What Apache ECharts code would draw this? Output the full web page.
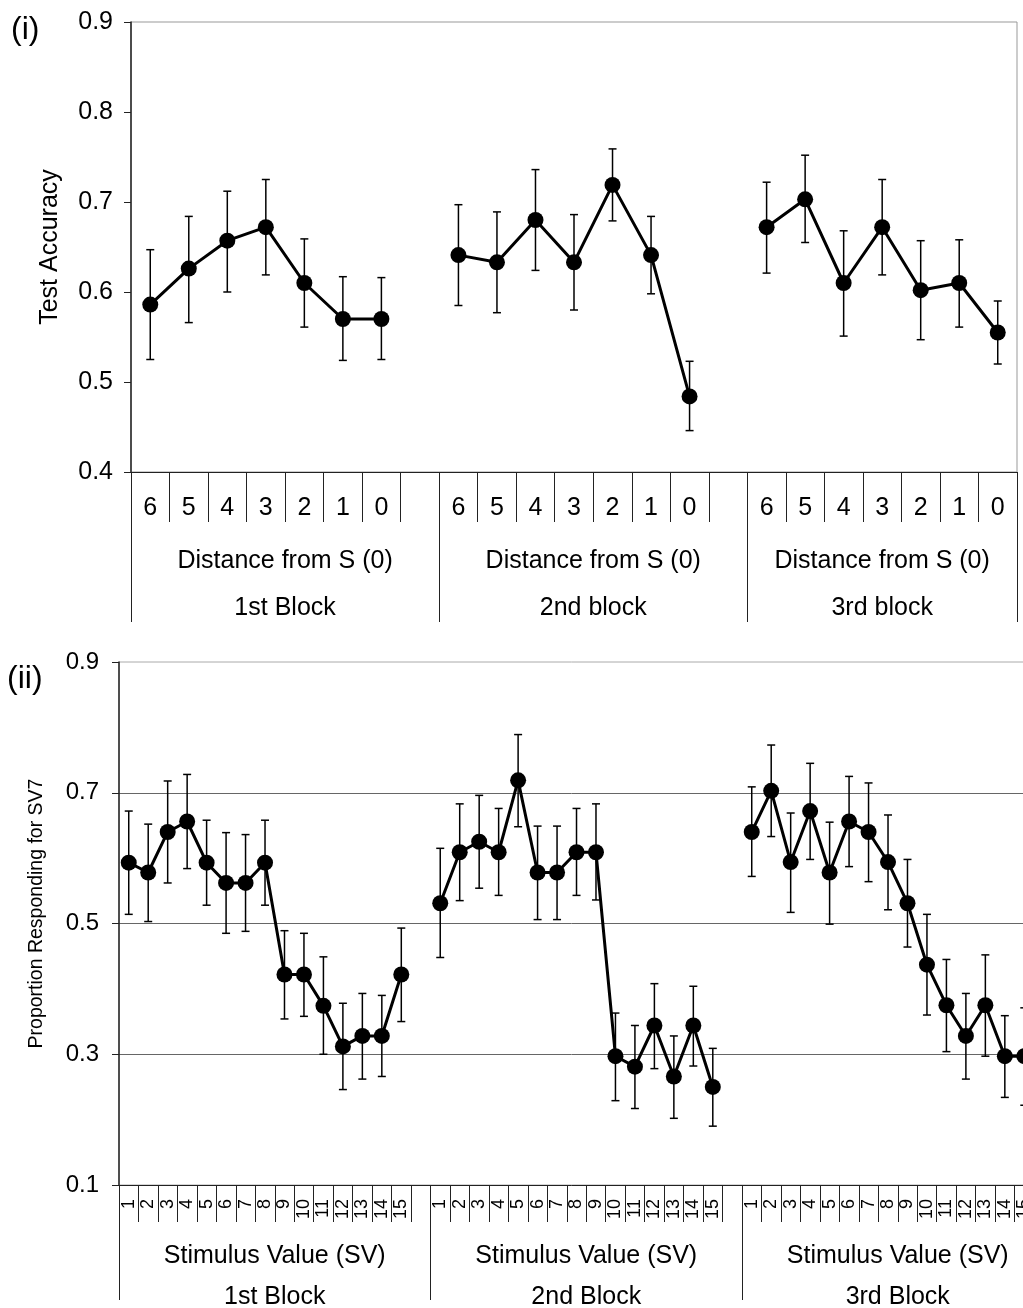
<!DOCTYPE html>
<html>
<head>
<meta charset="utf-8">
<script src="https://cdn.jsdelivr.net/npm/echarts@6/dist/echarts.min.js"></script>
<style>
  html, body { margin: 0; padding: 0; background: #fff; }
  #main { width: 1023px; height: 1308px; }
</style>
</head>
<body>
<div id="main"></div>
<script>
// (i) test accuracy by distance from S, three blocks
const distLabels = ['6', '5', '4', '3', '2', '1', '0'];
const topBlockNames = ['1st Block', '2nd block', '3rd block'];
const topGroupTitle = 'Distance from S (0)';

const accMean1 = [0.586, 0.626, 0.657, 0.672, 0.610, 0.570, 0.570];
const accLow1 = [0.525, 0.566, 0.600, 0.619, 0.561, 0.524, 0.525];
const accHigh1 = [0.647, 0.684, 0.712, 0.725, 0.659, 0.617, 0.616];

const accMean2 = [0.641, 0.633, 0.680, 0.633, 0.719, 0.641, 0.484];
const accLow2 = [0.585, 0.577, 0.624, 0.580, 0.679, 0.598, 0.446];
const accHigh2 = [0.697, 0.689, 0.736, 0.686, 0.759, 0.684, 0.523];

const accMean3 = [0.672, 0.703, 0.610, 0.672, 0.602, 0.610, 0.555];
const accLow3 = [0.621, 0.655, 0.551, 0.619, 0.547, 0.561, 0.520];
const accHigh3 = [0.722, 0.752, 0.668, 0.725, 0.657, 0.658, 0.590];

// (ii) proportion responding for SV7 by stimulus value
const svLabels = ['1', '2', '3', '4', '5', '6', '7', '8', '9', '10', '11', '12', '13', '14', '15'];
const botBlockNames = ['1st Block', '2nd Block', '3rd Block'];
const botGroupTitle = 'Stimulus Value (SV)';

const propMean1 = [0.593, 0.578, 0.640, 0.656, 0.593, 0.562, 0.562, 0.593, 0.422, 0.422, 0.374, 0.312, 0.328, 0.328, 0.422];
const propLow1 = [0.514, 0.503, 0.562, 0.584, 0.528, 0.485, 0.488, 0.528, 0.354, 0.358, 0.300, 0.246, 0.262, 0.266, 0.350];
const propHigh1 = [0.672, 0.652, 0.718, 0.728, 0.658, 0.639, 0.636, 0.658, 0.489, 0.485, 0.449, 0.378, 0.393, 0.390, 0.493];

const propMean2 = [0.531, 0.609, 0.625, 0.609, 0.719, 0.578, 0.578, 0.609, 0.609, 0.297, 0.281, 0.344, 0.266, 0.344, 0.250];
const propLow2 = [0.448, 0.535, 0.554, 0.543, 0.648, 0.506, 0.506, 0.543, 0.536, 0.229, 0.217, 0.278, 0.202, 0.282, 0.190];
const propHigh2 = [0.615, 0.683, 0.696, 0.676, 0.789, 0.649, 0.649, 0.676, 0.683, 0.363, 0.344, 0.408, 0.328, 0.404, 0.309];

const propMean3 = [0.640, 0.703, 0.594, 0.672, 0.578, 0.656, 0.640, 0.594, 0.531, 0.437, 0.375, 0.328, 0.375, 0.297, 0.297];
const propLow3 = [0.572, 0.633, 0.517, 0.598, 0.499, 0.587, 0.564, 0.521, 0.464, 0.360, 0.304, 0.262, 0.297, 0.234, 0.222];
const propHigh3 = [0.709, 0.773, 0.669, 0.745, 0.655, 0.725, 0.715, 0.666, 0.598, 0.514, 0.445, 0.393, 0.452, 0.359, 0.371];

const FONT = '"Liberation Sans", Arial, sans-serif';

// join blocks with an empty slot between them (and optionally after the last)
function joinBlocks(blocks, trailingGap) {
    let out = [];
    blocks.forEach(function (b, i) {
        out = out.concat(b);
        if (i < blocks.length - 1 || trailingGap) out.push(null);
    });
    return out;
}

function errorData(means, lows, highs) {
    let res = [];
    means.forEach(function (m, i) {
        if (m != null) res.push([i, lows[i], highs[i]]);
    });
    return res;
}

// half-slot axis used for the group rows (block titles and separators)
function halfSlots(nSlots) {
    let arr = [];
    for (let i = 0; i <= nSlots * 2; i++) arr.push(String(i));
    return arr;
}

const topCats = joinBlocks([distLabels, distLabels, distLabels], false).map(v => v == null ? '' : v);
const topMean = joinBlocks([accMean1, accMean2, accMean3], false);
const topLow = joinBlocks([accLow1, accLow2, accLow3], false);
const topHigh = joinBlocks([accHigh1, accHigh2, accHigh3], false);

const botCats = joinBlocks([svLabels, svLabels, svLabels], true).map(v => v == null ? '' : v);
const botMean = joinBlocks([propMean1, propMean2, propMean3], true);
const botLow = joinBlocks([propLow1, propLow2, propLow3], true);
const botHigh = joinBlocks([propHigh1, propHigh2, propHigh3], true);

// group edges and centres, in half-slot units
const topSlots = topCats.length;             // 23
const topEdges = [0, 16, 32, topSlots * 2];
const topCentres = [8, 24, 39];
const botSlots = botCats.length;             // 48
const botEdges = [0, 32, 64, botSlots * 2];
const botCentres = [16, 48, 80];

function errorBars(params, api) {
    const x = api.value(0);
    const top = api.coord([x, api.value(2)]);
    const bot = api.coord([x, api.value(1)]);
    const w = 4;
    const style = { stroke: '#000', lineWidth: 1.5 };
    return {
        type: 'group',
        children: [
            { type: 'line', shape: { x1: top[0], y1: top[1], x2: bot[0], y2: bot[1] }, style: style },
            { type: 'line', shape: { x1: top[0] - w, y1: top[1], x2: top[0] + w, y2: top[1] }, style: style },
            { type: 'line', shape: { x1: bot[0] - w, y1: bot[1], x2: bot[0] + w, y2: bot[1] }, style: style }
        ]
    };
}

const chart = echarts.init(document.getElementById('main'));

const option = {
    animation: false,
    backgroundColor: '#fff',
    textStyle: { fontFamily: FONT, color: '#000' },
    title: [
        { text: '(i)', left: 11, top: 14, padding: 0, textStyle: { fontFamily: FONT, fontSize: 32, fontWeight: 'normal', color: '#000' } },
        { text: '(ii)', left: 7, top: 663, padding: 0, textStyle: { fontFamily: FONT, fontSize: 32, fontWeight: 'normal', color: '#000' } }
    ],
    grid: [
        { left: 131, top: 22, width: 886, height: 450, show: true, borderColor: '#999', borderWidth: 1, containLabel: false, outerBoundsMode: 'none' },
        { left: 119, top: 662, width: 934.5, height: 523, show: true, borderColor: '#aaa', borderWidth: 1, containLabel: false, outerBoundsMode: 'none' }
    ],
    xAxis: [
        {
            gridIndex: 0, type: 'category', position: 'bottom', data: topCats,
            axisLine: { show: true, onZero: false, lineStyle: { color: '#222', width: 1 } },
            axisTick: { show: true, interval: 0, alignWithLabel: false, length: 50, lineStyle: { color: '#222', width: 1 } },
            axisLabel: { interval: 0, fontSize: 25, margin: 24, color: '#000', fontFamily: FONT },
            splitLine: { show: false }
        },
        {
            gridIndex: 0, type: 'category', position: 'bottom', boundaryGap: false, data: halfSlots(topSlots),
            axisLine: { show: false, onZero: false },
            axisTick: { show: true, interval: (i) => topEdges.includes(i), length: 150, lineStyle: { color: '#222' } },
            axisLabel: {
                interval: (i) => topCentres.includes(i),
                formatter: (v, i) => topGroupTitle + '\n' + topBlockNames[topCentres.indexOf(i)],
                fontSize: 25, lineHeight: 47, margin: 66, color: '#000', fontFamily: FONT
            },
            splitLine: { show: false }
        },
        {
            gridIndex: 1, type: 'category', position: 'bottom', data: botCats,
            axisLine: { show: true, onZero: false, lineStyle: { color: '#222', width: 1 } },
            axisTick: { show: true, interval: 0, alignWithLabel: false, length: 37, lineStyle: { color: '#222', width: 1 } },
            axisLabel: { interval: 0, rotate: 90, fontSize: 18, margin: 14, color: '#000', fontFamily: FONT },
            splitLine: { show: false }
        },
        {
            gridIndex: 1, type: 'category', position: 'bottom', boundaryGap: false, data: halfSlots(botSlots),
            axisLine: { show: false, onZero: false },
            axisTick: { show: true, interval: (i) => botEdges.includes(i), length: 115, lineStyle: { color: '#222' } },
            axisLabel: {
                interval: (i) => botCentres.includes(i),
                formatter: (v, i) => botGroupTitle + '\n' + botBlockNames[botCentres.indexOf(i)],
                fontSize: 25, lineHeight: 41, margin: 51, color: '#000', fontFamily: FONT
            },
            splitLine: { show: false }
        }
    ],
    yAxis: [
        {
            gridIndex: 0, type: 'value', min: 0.4, max: 0.9, interval: 0.1,
            name: 'Test Accuracy', nameLocation: 'middle', nameGap: 68,
            nameTextStyle: { fontSize: 25, color: '#000', fontFamily: FONT },
            axisLine: { show: true, lineStyle: { color: '#222', width: 1.5 } },
            axisTick: { show: true, length: 7, lineStyle: { color: '#222' } },
            axisLabel: { fontSize: 25, margin: 18, color: '#000', fontFamily: FONT, formatter: v => v.toFixed(1) },
            splitLine: { show: false }
        },
        {
            gridIndex: 1, type: 'value', min: 0.1, max: 0.9, interval: 0.2,
            name: 'Proportion Responding for SV7', nameLocation: 'middle', nameGap: 72,
            nameTextStyle: { fontSize: 19.5, color: '#000', fontFamily: FONT, padding: [0, 0, 0, 20] },
            axisLine: { show: true, lineStyle: { color: '#222', width: 1.5 } },
            axisTick: { show: true, length: 7, lineStyle: { color: '#222' } },
            axisLabel: { fontSize: 24, margin: 20, color: '#000', fontFamily: FONT, formatter: v => v.toFixed(1) },
            splitLine: { show: true, showMinLine: false, showMaxLine: false, lineStyle: { color: '#666', width: 1 } }
        }
    ],
    series: [
        {
            type: 'custom', xAxisIndex: 0, yAxisIndex: 0,
            data: errorData(topMean, topLow, topHigh),
            encode: { x: 0, y: [1, 2] },
            renderItem: errorBars, z: 2
        },
        {
            type: 'line', xAxisIndex: 0, yAxisIndex: 0, data: topMean,
            symbol: 'circle', symbolSize: 16, connectNulls: false,
            lineStyle: { color: '#000', width: 3 },
            itemStyle: { color: '#000' }, z: 3
        },
        {
            type: 'custom', xAxisIndex: 2, yAxisIndex: 1,
            data: errorData(botMean, botLow, botHigh),
            encode: { x: 0, y: [1, 2] },
            renderItem: errorBars, z: 2
        },
        {
            type: 'line', xAxisIndex: 2, yAxisIndex: 1, data: botMean,
            symbol: 'circle', symbolSize: 16, connectNulls: false,
            lineStyle: { color: '#000', width: 3 },
            itemStyle: { color: '#000' }, z: 3
        }
    ]
};

chart.setOption(option);
</script>
</body>
</html>
